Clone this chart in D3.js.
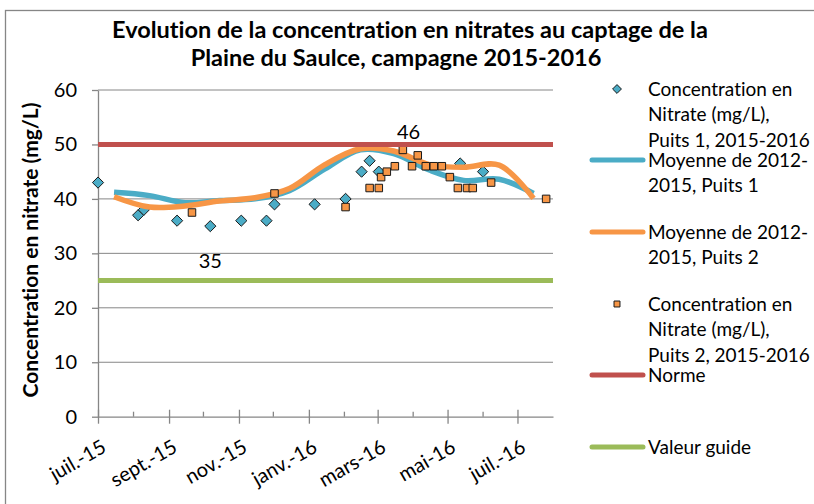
<!DOCTYPE html>
<meta charset="utf-8">
<style>
body { margin: 0; background: #fff; }
text { font-family: Lato, "Open Sans", sans-serif; fill: #000; font-variant-ligatures: none; font-feature-settings: "liga" 0, "clig" 0, "dlig" 0; }
.grid line { stroke: #868686; stroke-width: 1px; }
.axis path, .axis line { stroke: #868686; stroke-width: 1.3px; }
.axis text { font-size: 20px; }
.title { font-size: 23.5px; font-weight: bold; }
.ytitle { font-size: 21px; font-weight: bold; }
.legend text { font-size: 19px; }
.lbl { font-size: 20px; }
</style>
<svg width="814" height="504"></svg>
<script src="https://d3js.org/d3.v7.min.js"></script>
<script>

var parse = d3.timeParse("%Y-%m-%d");

// Concentration en Nitrate (mg/L), Puits 1, 2015-2016
var puits1Dates = ["2015-07-01", "2015-08-05", "2015-08-10", "2015-09-08", "2015-10-07",
  "2015-11-03", "2015-11-25", "2015-12-02", "2016-01-06", "2016-02-02", "2016-02-16",
  "2016-02-23", "2016-03-02", "2016-05-12", "2016-06-01"];
var puits1Values = [43, 37, 38, 36, 35, 36, 36, 39, 39, 40, 45, 47, 45, 46.5, 45];

// Concentration en Nitrate (mg/L), Puits 2, 2015-2016
var puits2Dates = ["2015-09-21", "2015-12-02", "2016-02-02", "2016-02-23", "2016-03-02",
  "2016-03-04", "2016-03-09", "2016-03-16", "2016-03-23", "2016-03-31", "2016-04-05",
  "2016-04-12", "2016-04-19", "2016-04-26", "2016-05-03", "2016-05-10", "2016-05-18",
  "2016-05-23", "2016-06-08", "2016-07-26"];
var puits2Values = [37.5, 41, 38.5, 42, 42, 44, 45, 46, 49, 46, 48, 46, 46, 46, 44, 42, 42,
  42, 43, 40];

// Moyennes mensuelles 2012-2015
var moyDates = ["2015-07-15", "2015-08-15", "2015-09-15", "2015-10-15", "2015-11-15",
  "2015-12-15", "2016-01-15", "2016-02-15", "2016-03-15", "2016-04-15", "2016-05-15",
  "2016-06-15", "2016-07-15"];
var moyPuits1 = [41.2, 40.6, 39.3, 39.7, 40.0, 41.5, 45.5, 49.0, 48.3, 45.3, 43.4, 43.6, 41.0];
var moyPuits2 = [40.4, 38.5, 38.7, 39.6, 40.2, 41.9, 46.3, 49.2, 48.8, 46.3, 45.8, 46.2, 40.1];

var limitDates = ["2015-07-01", "2016-08-01"];
var norme = [50, 50];
var valeurGuide = [25, 25];

var majorTicks = ["2015-07-01", "2015-09-01", "2015-11-01", "2016-01-01", "2016-03-01",
  "2016-05-01", "2016-07-01"];
var majorLabels = ["juil.-15", "sept.-15", "nov.-15", "janv.-16", "mars-16", "mai-16", "juil.-16"];
var minorTicks = ["2015-08-01", "2015-10-01", "2015-12-01", "2016-02-01", "2016-04-01", "2016-06-01"];
var yTicks = [0, 10, 20, 30, 40, 50, 60];

// étiquettes de données
var labelDates = ["2015-10-07", "2016-03-28"];
var labelValues = [28.6, 52.2];
var labelTexts = ["35", "46"];

var legendNames = [
  ["Concentration en", "Nitrate (mg/L),", "Puits 1, 2015-2016"],
  ["Moyenne de 2012-", "2015, Puits 1"],
  ["Moyenne de 2012-", "2015, Puits 2"],
  ["Concentration en", "Nitrate (mg/L),", "Puits 2, 2015-2016"],
  ["Norme"],
  ["Valeur guide"]
];

var blue = "#4BACC6", orange = "#F79646", red = "#C0504D", green = "#9BBB59";

var svg = d3.select("svg");

var x = d3.scaleTime()
    .domain([parse("2015-07-01"), parse("2016-08-01")])
    .range([98, 553]);

var y = d3.scaleLinear()
    .domain([0, 60])
    .range([416.7, 90]);

function zip(dates, values) {
  return dates.map(function(d, i) { return {date: parse(d), value: values[i]}; });
}

// chart border
svg.append("rect")
    .attr("x", 5.5).attr("y", 10.5)
    .attr("width", 900).attr("height", 600)
    .attr("fill", "none")
    .attr("stroke", "#868686")
    .attr("stroke-width", 1.3);

// title
svg.append("text")
    .attr("class", "title")
    .attr("text-anchor", "middle")
    .attr("x", 410).attr("y", 38)
    .text("Evolution de la concentration en nitrates au captage de la");
svg.append("text")
    .attr("class", "title")
    .attr("text-anchor", "middle")
    .attr("x", 396).attr("y", 66)
    .text("Plaine du Saulce, campagne 2015-2016");

// gridlines
svg.append("g")
    .attr("class", "grid")
  .selectAll("line")
    .data(yTicks.filter(function(d) { return d > 0; }))
  .enter().append("line")
    .attr("x1", x.range()[0]).attr("x2", x.range()[1])
    .attr("y1", function(d) { return y(d); })
    .attr("y2", function(d) { return y(d); });

// y axis
svg.append("g")
    .attr("class", "axis")
    .attr("transform", "translate(98,0)")
    .call(d3.axisLeft(y).tickValues(yTicks).tickSize(6).tickSizeOuter(0).tickPadding(15));

svg.append("text")
    .attr("class", "ytitle")
    .attr("text-anchor", "middle")
    .attr("transform", "translate(38,250) rotate(-90)")
    .text("Concentration en nitrate (mg/L)");

// x axis
var xAxis = svg.append("g")
    .attr("class", "axis")
    .attr("transform", "translate(0," + y(0) + ")")
    .call(d3.axisBottom(x)
      .tickValues(majorTicks.map(parse))
      .tickFormat(function(d, i) { return majorLabels[i]; })
      .tickSizeOuter(0));

xAxis.selectAll(".tick line").attr("y1", -7).attr("y2", 7);
xAxis.selectAll(".tick text")
    .attr("text-anchor", "end")
    .attr("x", 0).attr("y", 0)
    .attr("transform", "translate(2,22) rotate(-30)")
    .attr("dy", "0.71em");

xAxis.selectAll(".minor")
    .data(minorTicks.map(parse))
  .enter().append("line")
    .attr("class", "minor")
    .attr("x1", function(d) { return x(d); })
    .attr("x2", function(d) { return x(d); })
    .attr("y1", 0).attr("y2", -5);

// series
var diamond = d3.symbol().type(d3.symbolDiamond2).size(80);
var square = d3.symbol().type(d3.symbolSquare2).size(72);

var smooth = d3.line()
    .curve(d3.curveCatmullRom.alpha(0.5))
    .x(function(d) { return x(d.date); })
    .y(function(d) { return y(d.value); });

svg.append("g").selectAll("path")
    .data(zip(puits1Dates, puits1Values))
  .enter().append("path")
    .attr("transform", function(d) { return "translate(" + x(d.date) + "," + y(d.value) + ")"; })
    .attr("d", diamond)
    .attr("fill", blue)
    .attr("stroke", "#1a1a1a")
    .attr("stroke-width", 1);

svg.append("path")
    .datum(zip(moyDates, moyPuits1))
    .attr("fill", "none")
    .attr("stroke", blue)
    .attr("stroke-width", 5.5)
    .attr("d", smooth);

svg.append("path")
    .datum(zip(moyDates, moyPuits2))
    .attr("fill", "none")
    .attr("stroke", orange)
    .attr("stroke-width", 5.5)
    .attr("d", smooth);

svg.append("g").selectAll("path")
    .data(zip(puits2Dates, puits2Values))
  .enter().append("path")
    .attr("transform", function(d) { return "translate(" + x(d.date) + "," + y(d.value) + ")"; })
    .attr("d", square)
    .attr("fill", orange)
    .attr("stroke", "#1a1a1a")
    .attr("stroke-width", 1);

var straight = d3.line()
    .x(function(d) { return x(d.date); })
    .y(function(d) { return y(d.value); });

svg.append("path")
    .datum(zip(limitDates, norme))
    .attr("fill", "none")
    .attr("stroke", red)
    .attr("stroke-width", 5)
    .attr("d", straight);

svg.append("path")
    .datum(zip(limitDates, valeurGuide))
    .attr("fill", "none")
    .attr("stroke", green)
    .attr("stroke-width", 5)
    .attr("d", straight);

// data labels
svg.append("g").selectAll("text")
    .data(zip(labelDates, labelValues))
  .enter().append("text")
    .attr("class", "lbl")
    .attr("text-anchor", "middle")
    .attr("x", function(d) { return x(d.date); })
    .attr("y", function(d) { return y(d.value); })
    .attr("dy", "0.35em")
    .text(function(d, i) { return labelTexts[i]; });

// legend
var legendY = [89, 160, 232, 304, 375, 447];
var legendKind = ["diamond", "line", "line", "square", "line", "line"];
var legendColor = [blue, blue, orange, orange, red, green];

var legend = svg.append("g").attr("class", "legend");

legendNames.forEach(function(lines, i) {
  var g = legend.append("g").attr("transform", "translate(0," + legendY[i] + ")");
  if (legendKind[i] === "line") {
    g.append("line")
        .attr("x1", 592).attr("x2", 643)
        .attr("stroke", legendColor[i])
        .attr("stroke-width", 5)
        .attr("stroke-linecap", "round");
  } else {
    g.append("path")
        .attr("transform", "translate(617,0)")
        .attr("d", legendKind[i] === "diamond"
          ? d3.symbol().type(d3.symbolDiamond2).size(50)()
          : d3.symbol().type(d3.symbolSquare2).size(45)())
        .attr("fill", legendColor[i])
        .attr("stroke", "#1a1a1a")
        .attr("stroke-width", 1);
  }
  g.selectAll("text")
      .data(lines)
    .enter().append("text")
      .attr("x", 648)
      .attr("y", function(d, j) { return j * 25.5; })
      .attr("dy", "0.35em")
      .text(function(d) { return d; });
});

</script>
